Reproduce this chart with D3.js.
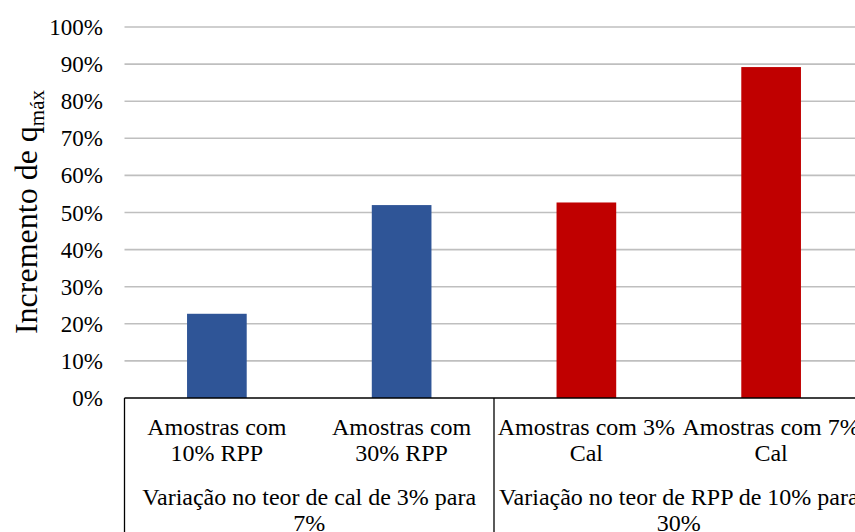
<!DOCTYPE html>
<html>
<head>
<meta charset="utf-8">
<script src="https://cdn.jsdelivr.net/npm/d3@7"></script>
<style>
  html, body { margin: 0; padding: 0; background: #fff; }
  svg { display: block; }
  svg text { font-family: "Liberation Serif", "Times New Roman", Times, serif; }
</style>
</head>
<body>
<svg id="chart" width="855" height="532"></svg>
<script>
// Increment of q_max per sample set
const categories = [
  "Amostras com 10% RPP",
  "Amostras com 30% RPP",
  "Amostras com 3% Cal",
  "Amostras com 7% Cal"
];
const values = [0.227, 0.520, 0.527, 0.892];
const barColors = ["#2F5597", "#2F5597", "#C00000", "#C00000"];
const groups = [
  "Variação no teor de cal de 3% para 7%",
  "Variação no teor de RPP de 10% para 30%"
];
const groupSizes = [2, 2];
const yTicks = [0, 0.1, 0.2, 0.3, 0.4, 0.5, 0.6, 0.7, 0.8, 0.9, 1.0];

(function () {
  const FONT = "Liberation Serif";
  const svg = d3.select("#chart");
  const W = 855, H = 532;
  const plotL = 124.5, plotR = 863.5, plotT = 27, plotB = 398;

  const x = d3.scaleBand().domain(categories).range([plotL, plotR]).padding(0);
  const y = d3.scaleLinear().domain([0, 1]).range([plotB, plotT]);
  const barW = x.bandwidth() * 0.323;

  // gridlines
  svg.append("g")
    .selectAll("line")
    .data(yTicks.filter(d => d > 0))
    .join("line")
    .attr("x1", plotL).attr("x2", W)
    .attr("y1", d => y(d)).attr("y2", d => y(d))
    .attr("stroke", "#bfbfbf").attr("stroke-width", 1.6);

  // y axis labels
  const yAxis = d3.axisLeft(y).tickValues(yTicks).tickFormat(d3.format(".0%")).tickSize(0).tickPadding(0);
  const gy = svg.append("g").attr("transform", "translate(103,0)").call(yAxis)
    .attr("font-family", FONT);
  gy.select(".domain").remove();
  gy.selectAll("text")
    .attr("font-family", FONT)
    .attr("font-size", 23).attr("fill", "#000").attr("dy", "0.33em");

  // bars
  svg.append("g")
    .selectAll("rect")
    .data(categories)
    .join("rect")
    .attr("x", d => x(d) + x.bandwidth() / 2 - barW / 2)
    .attr("width", barW)
    .attr("y", (d, i) => y(values[i]))
    .attr("height", (d, i) => y(0) - y(values[i]))
    .attr("fill", (d, i) => barColors[i]);

  // category axis frame
  const axisG = svg.append("g").attr("stroke", "#000").attr("stroke-width", 1.3);
  axisG.append("line").attr("x1", plotL).attr("x2", W).attr("y1", plotB).attr("y2", plotB);
  let idx = 0;
  const boundaries = [plotL];
  groupSizes.forEach(n => { idx += n; boundaries.push(x(categories[idx - 1]) + x.bandwidth()); });
  axisG.selectAll("line.sep")
    .data(boundaries)
    .join("line")
    .attr("class", "sep")
    .attr("x1", d => d).attr("x2", d => d)
    .attr("y1", plotB).attr("y2", H);

  // word wrap into tspans
  function wrapText(textSel, str, maxW, lineH) {
    const words = str.split(" ");
    let line = [];
    const x0 = textSel.attr("x");
    let tspan = textSel.append("tspan").attr("x", x0).attr("dy", 0);
    words.forEach(w => {
      line.push(w);
      tspan.text(line.join(" "));
      if (tspan.node().getComputedTextLength() > maxW && line.length > 1) {
        line.pop();
        tspan.text(line.join(" "));
        line = [w];
        tspan = textSel.append("tspan").attr("x", x0).attr("dy", lineH).text(w);
      }
    });
  }

  // category labels
  svg.append("g")
    .selectAll("text")
    .data(categories)
    .join("text")
    .attr("x", d => x(d) + x.bandwidth() / 2)
    .attr("y", 435)
    .attr("text-anchor", "middle")
    .attr("font-family", FONT)
    .attr("font-size", 24)
    .attr("fill", "#000")
    .each(function (d) { wrapText(d3.select(this), d, 182, 26); });

  // group labels
  let start = 0;
  groups.forEach((g, i) => {
    const a = x(categories[start]);
    const b = x(categories[start + groupSizes[i] - 1]) + x.bandwidth();
    start += groupSizes[i];
    const t = svg.append("text")
      .attr("x", (a + b) / 2)
      .attr("y", 505)
      .attr("text-anchor", "middle")
      .attr("font-family", FONT)
      .attr("font-size", 24)
      .attr("fill", "#000");
    wrapText(t, g, 368, 26);
  });

  // y axis title with subscript
  const title = svg.append("text")
    .attr("transform", "translate(37,212) rotate(-90)")
    .attr("text-anchor", "middle")
    .attr("font-family", FONT)
    .attr("font-size", 32)
    .attr("fill", "#000");
  title.append("tspan").text("Incremento de q");
  title.append("tspan").attr("font-size", 21).attr("dy", 7).text("máx");
})();
</script>
</body>
</html>
